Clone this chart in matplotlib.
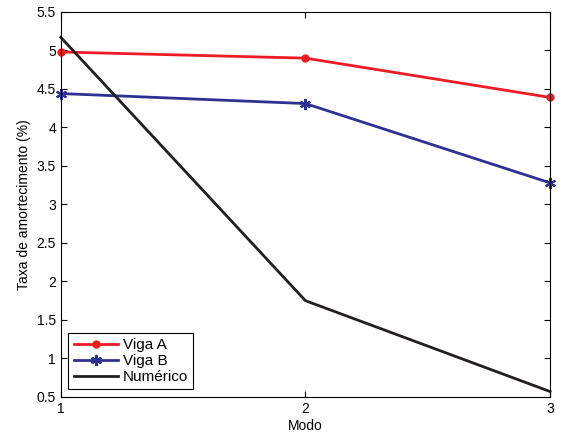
import matplotlib
matplotlib.use('Agg')
import matplotlib.pyplot as plt

plt.rcParams['font.family'] = ['Liberation Sans', 'DejaVu Sans']

# dados
modos = [1, 2, 3]
viga_a = [4.98, 4.90, 4.39]
viga_b = [4.44, 4.31, 3.28]
numerico = [5.17, 1.75, 0.57]

fig = plt.figure(figsize=(5.63, 4.42), dpi=100)
ax = fig.add_axes([0.108, 0.102, 0.869, 0.871])

ax.plot(modos, viga_a, color='#ED1C24', lw=2, marker='o', ms=5, label='Viga A', clip_on=False)
ax.plot(modos, viga_b, color='#2E3192', lw=2, marker=(6, 2, 0), ms=8, mew=1.5,
        label='Viga B', clip_on=False)
ax.plot(modos, numerico, color='#231F20', lw=2, label='Numérico', clip_on=False)

ax.set_xlim(1, 3)
ax.set_ylim(0.5, 5.5)
ax.set_xticks([1, 2, 3])
ax.set_yticks([0.5, 1, 1.5, 2, 2.5, 3, 3.5, 4, 4.5, 5, 5.5])
ax.set_yticklabels(['0.5', '1', '1.5', '2', '2.5', '3', '3.5', '4', '4.5', '5', '5.5'])
ax.tick_params(direction='in', labelsize=10, top=True, right=True, length=4)
ax.set_xlabel('Modo', fontsize=10, labelpad=2)
ax.set_ylabel('Taxa de amortecimento (%)', fontsize=10)

leg = ax.legend(loc='lower left', fontsize=11, fancybox=False, edgecolor='black',
                framealpha=1, handlelength=2.9, borderaxespad=0.5, labelspacing=0.12,
                handletextpad=0.3, borderpad=0.35)
leg.get_frame().set_linewidth(0.8)

fig.savefig('out.png', dpi=100)
